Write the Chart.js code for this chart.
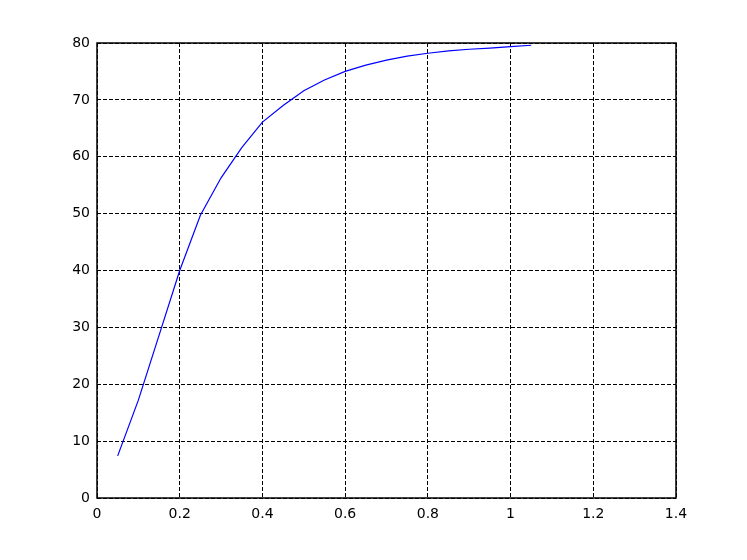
<!DOCTYPE html>
<html>
<head>
<meta charset="utf-8">
<script src="https://cdn.jsdelivr.net/npm/chart.js@4/dist/chart.umd.min.js"></script>
<style>
  html, body { margin: 0; padding: 0; background: #fff; }
  #wrap { width: 747px; height: 560px; }
</style>
</head>
<body>
<div id="wrap"><canvas id="c" width="747" height="560"></canvas></div>
<script>
// values
const xValues = [0.05, 0.1, 0.15, 0.2, 0.25, 0.3, 0.35, 0.4, 0.45, 0.5, 0.55,
                 0.6, 0.65, 0.7, 0.75, 0.8, 0.85, 0.9, 0.95, 1.0, 1.05]
const yValues = [7.4, 17.2, 28.6, 40.0, 49.7, 56.3, 61.6, 66.1, 69.0, 71.6, 73.5,
                 75.0, 76.1, 77.0, 77.7, 78.2, 78.6, 78.9, 79.1, 79.35, 79.6]
const xTickLabels = ['0', '0.2', '0.4', '0.6', '0.8', '1', '1.2', '1.4']
const yTickLabels = ['0', '10', '20', '30', '40', '50', '60', '70', '80']

const framePlugin = {
  id: 'frame',
  afterDraw(chart) {
    const a = chart.chartArea
    const ctx = chart.ctx
    ctx.save()
    ctx.strokeStyle = '#000'
    ctx.lineWidth = 1.5
    ctx.strokeRect(a.left, a.top, a.right - a.left, a.bottom - a.top)
    ctx.restore()
  }
}

new Chart(
  document.getElementById('c'),
  {
    type: 'scatter',
    data: {
      datasets: [
        {
          data: xValues.map((x, i) => ({ x: x, y: yValues[i] })),
          showLine: true,
          borderColor: '#0000ff',
          borderWidth: 1.2,
          pointRadius: 0,
          fill: false,
          tension: 0
        }
      ]
    },
    options: {
      responsive: false,
      animation: false,
      layout: {
        padding: { top: 43, right: 71, left: 0, bottom: 0 }
      },
      scales: {
        x: {
          type: 'linear',
          min: 0,
          max: 1.4,
          afterFit(scale) { scale.height = 62 },
          ticks: {
            stepSize: 0.2,
            padding: 8,
            color: '#000',
            font: { family: 'DejaVu Sans', size: 14 },
            maxRotation: 0,
            callback: (v, i) => xTickLabels[i]
          },
          grid: {
            color: '#000',
            lineWidth: 1,
            drawTicks: false
          },
          border: { display: false, dash: [4, 2] }
        },
        y: {
          min: 0,
          max: 80,
          afterFit(scale) { scale.width = 97 },
          ticks: {
            stepSize: 10,
            padding: 7,
            color: '#000',
            font: { family: 'DejaVu Sans', size: 14 },
            callback: (v, i) => yTickLabels[i]
          },
          grid: {
            color: '#000',
            lineWidth: 1,
            drawTicks: false
          },
          border: { display: false, dash: [4, 2] }
        }
      },
      plugins: {
        legend: { display: false },
        tooltip: { enabled: false }
      }
    },
    plugins: [framePlugin]
  }
)
</script>
</body>
</html>
